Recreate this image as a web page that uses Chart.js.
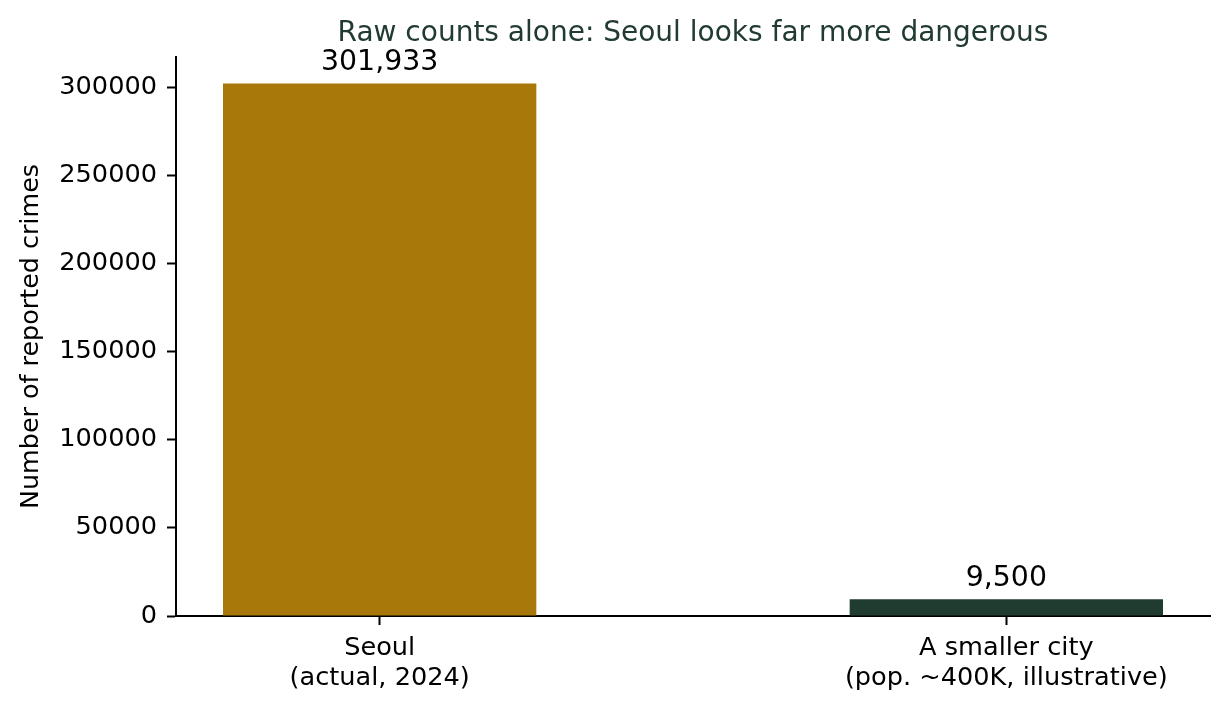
<!DOCTYPE html>
<html>
<head>
<meta charset="utf-8">
<script src="https://cdn.jsdelivr.net/npm/chart.js@4.4.1/dist/chart.umd.min.js"></script>
<style>
  html, body { margin: 0; padding: 0; background: #ffffff; }
  canvas { display: block; }
</style>
</head>
<body>
<canvas id="chart" width="1228" height="710"></canvas>
<script>
// data
var cities = [
  ["Seoul", "(actual, 2024)"],
  ["A smaller city", "(pop. ~400K, illustrative)"]
];
var crimes = [301933, 9500];
var barColors = ["#A8780A", "#203B30"];
var yTicks = [0, 50000, 100000, 150000, 200000, 250000, 300000];

var titleText = "Raw counts alone: Seoul looks far more dangerous";
var fontFamily = "'DejaVu Sans', sans-serif";

// bar value labels + title, drawn after the bars
var labelPlugin = {
  id: "labels",
  afterDatasetsDraw: function(chart) {
    var ctx = chart.ctx;
    var meta = chart.getDatasetMeta(0);
    ctx.save();
    ctx.fillStyle = "#000000";
    ctx.font = "28.4px " + fontFamily;
    ctx.textAlign = "center";
    ctx.textBaseline = "alphabetic";
    meta.data.forEach(function(bar, i) {
      ctx.fillText(crimes[i].toLocaleString("en-US"), bar.x, bar.y - 13.5);
    });
    var area = chart.chartArea;
    ctx.fillStyle = "#213B30";
    ctx.font = "28px " + fontFamily;
    ctx.fillText(titleText, (area.left + area.right) / 2, 41);
    ctx.restore();
  }
};

var points = [];
for (var i = 0; i < crimes.length; i++) {
  points.push({ x: i, y: crimes[i] });
}

var ctx = document.getElementById("chart").getContext("2d");
var allChart = new Chart(ctx, {
  type: "bar",
  data: {
    datasets: [{
      data: points,
      backgroundColor: barColors,
      borderWidth: 0,
      barPercentage: 0.5,
      categoryPercentage: 1.0
    }]
  },
  plugins: [labelPlugin],
  options: {
    responsive: false,
    animation: false,
    devicePixelRatio: 1,
    layout: { padding: { top: 57, right: 18, left: 0, bottom: 0 } },
    plugins: {
      legend: { display: false },
      tooltip: { enabled: false },
      title: { display: false }
    },
    scales: {
      x: {
        type: "linear",
        min: -0.325,
        max: 1.325,
        offset: false,
        afterBuildTicks: function(scale) {
          scale.ticks = cities.map(function(c, i) { return { value: i }; });
        },
        afterFit: function(scale) { scale.height = 94; },
        grid: {
          offset: false,
          drawOnChartArea: false,
          drawTicks: true,
          tickLength: 9,
          tickWidth: 2,
          tickColor: "#000000"
        },
        border: { display: true, color: "#000000", width: 2 },
        ticks: {
          color: "#000000",
          padding: 8,
          maxRotation: 0,
          autoSkip: false,
          font: { family: fontFamily, size: 25.6, lineHeight: 1.18 },
          callback: function(v) { return cities[v]; }
        }
      },
      y: {
        min: 0,
        max: 317030,
        afterBuildTicks: function(scale) {
          scale.ticks = yTicks.map(function(v) { return { value: v }; });
        },
        afterFit: function(scale) { scale.width = 176; },
        grid: {
          drawOnChartArea: false,
          drawTicks: true,
          tickLength: 9,
          tickWidth: 2,
          tickColor: "#000000"
        },
        border: { display: true, color: "#000000", width: 2 },
        ticks: {
          color: "#000000",
          padding: 10,
          font: { family: fontFamily, size: 25.6 },
          callback: function(v) { return String(v); }
        },
        title: {
          display: true,
          text: "Number of reported crimes",
          color: "#000000",
          padding: { top: 16, bottom: 0 },
          font: { family: fontFamily, size: 25.4, lineHeight: 1.2 }
        }
      }
    }
  }
});
</script>
</body>
</html>
